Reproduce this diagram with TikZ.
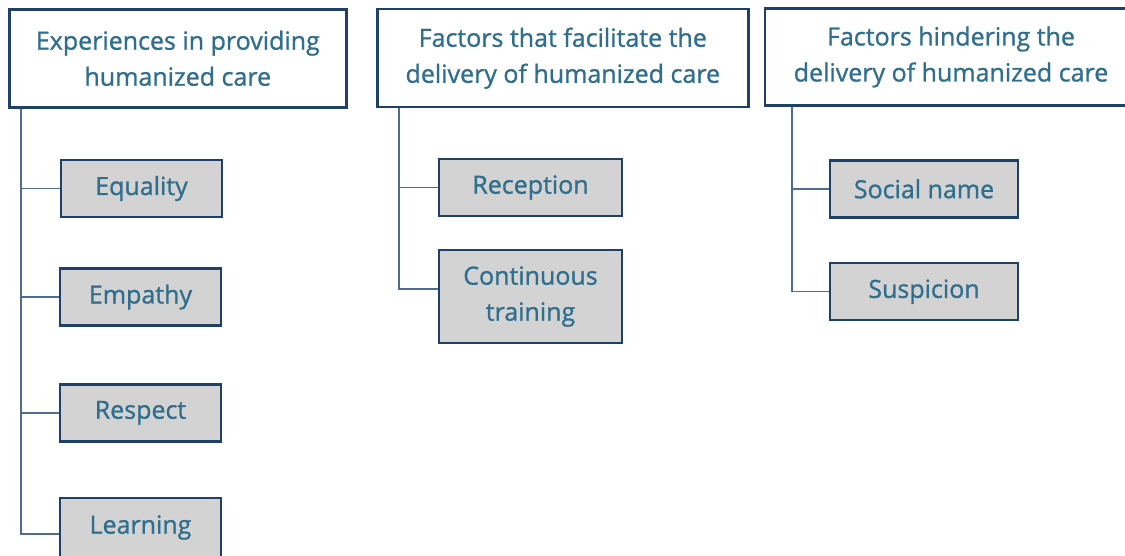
\documentclass[tikz,border=0pt]{standalone}
\usepackage{fontspec}
\setmainfont[FakeBold=1]{Open Sans}
\usepackage{tikz}
\usetikzlibrary{calc}
\definecolor{boxline}{HTML}{1F4168}
\definecolor{boxtext}{HTML}{2F6E8C}
\definecolor{boxfill}{HTML}{D3D3D3}
\definecolor{linkline}{HTML}{4F6D8F}

\begin{document}
\begin{tikzpicture}[x=1pt, y=-1pt,
            head/.style={rectangle, draw=boxline, line width=2.4pt, fill=white,
            text=boxtext, align=center, font=\fontsize{25}{36}\selectfont, inner sep=0pt},
            item/.style={rectangle, draw=boxline, line width=2.4pt, fill=boxfill,
            text=boxtext, align=center, font=\fontsize{25}{36}\selectfont, inner sep=0pt},
            link/.style={draw=linkline, line width=1.4pt}]
          \useasboundingbox (0,0) rectangle (1125,555);

          % column headers
          \node[head, minimum width=337, minimum height=98] (H1) at (177.8,58.3) {Experiences in providing\\humanized care};
          \node[head, minimum width=371, minimum height=98] (H2) at (562.8,58.2) {Factors that facilitate the\\delivery of humanized care};
          \node[head, minimum width=372, minimum height=97] (H3) at (951,57) {Factors hindering the\\delivery of humanized care};

          % first column
          \node[item, minimum width=161, minimum height=57] (E1) at (141.5,188.5) {Equality};
          \node[item, minimum width=161, minimum height=57] (E2) at (140.5,297) {Empathy};
          \node[item, minimum width=161, minimum height=57] (E3) at (140.5,412.8) {Respect};
          \node[item, minimum width=161, minimum height=59] (E4) at (140.5,527.5) {Learning};

          % second column
          \node[item, minimum width=183, minimum height=57] (F1) at (530.5,187.5) {Reception};
          \node[item, minimum width=183, minimum height=93] (F2) at (530.5,296.5) {Continuous\\training};

          % third column
          \node[item, minimum width=188, minimum height=57] (G1) at (924,188.8) {Social name};
          \node[item, minimum width=188, minimum height=57] (G2) at (924,291.7) {Suspicion};

          \foreach \c in {E1,E2,E3}
            \draw[link] ([xshift=13pt]H1.south west) |- (\c.west);
          \draw[link] ([xshift=13pt]H1.south west) |- ([yshift=-6.5pt]E4.west);
          \draw[link] ([xshift=23pt]H2.south west) |- (F1.west);
          \draw[link] ([xshift=23pt]H2.south west) |- ([yshift=7.5pt]F2.west);
          \foreach \c in {G1,G2}
            \draw[link] ([xshift=28pt]H3.south west) |- (\c.west);
        \end{tikzpicture}
\end{document}
